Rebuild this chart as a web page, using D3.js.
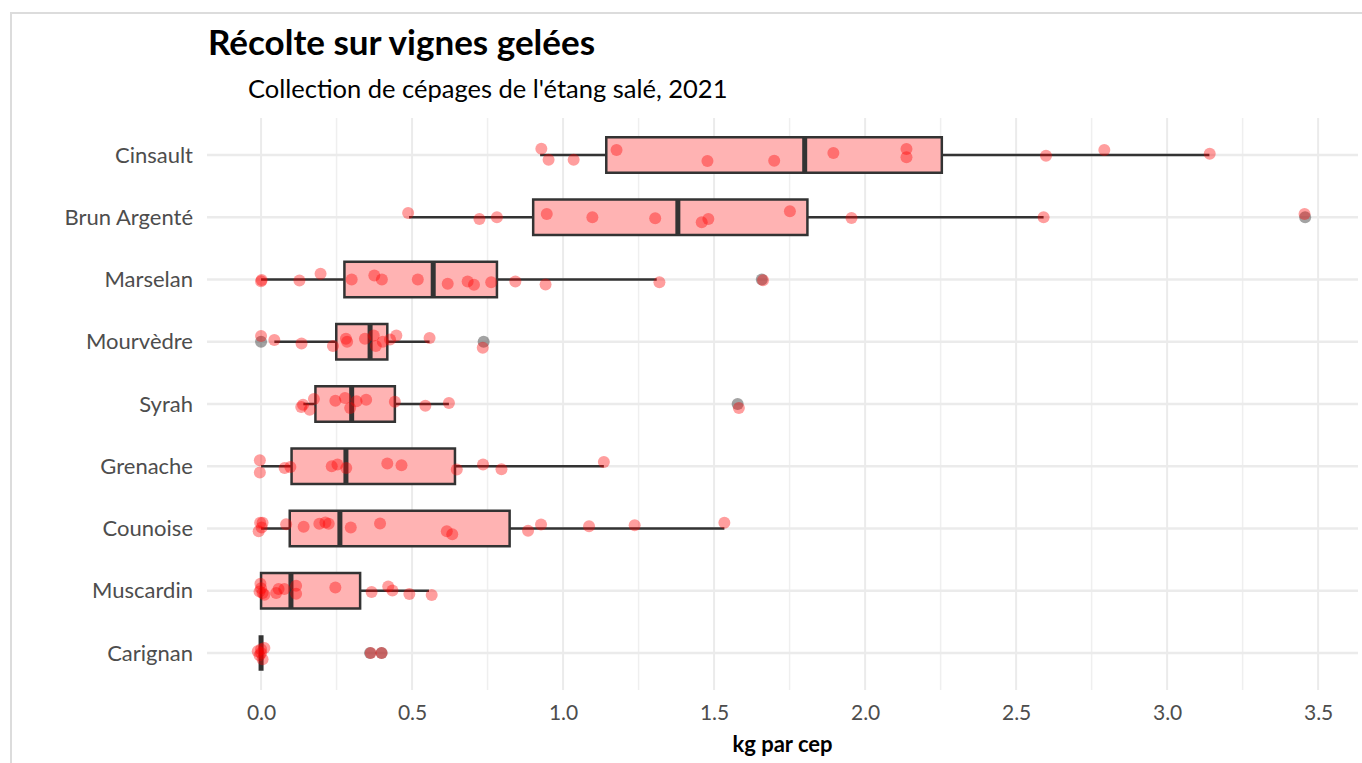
<!DOCTYPE html>
<html>
<head>
<meta charset="utf-8">
<script src="https://cdn.jsdelivr.net/npm/d3@7"></script>
<style>
  body { margin: 0; background: #fff; }
  svg { font-family: Lato, "Open Sans", sans-serif; }
</style>
</head>
<body>
<svg id="chart"></svg>
<script>
// cepages, top to bottom
var cepages = ["Cinsault", "Brun Argenté", "Marselan", "Mourvèdre", "Syrah", "Grenache", "Counoise", "Muscardin", "Carignan"];

// box stats (kg par cep)
var whiskLo = [0.924, 0.49, 0.0, 0.044, 0.14, 0.0, 0.0, 0.0, 0.0];
var q1      = [1.143, 0.901, 0.276, 0.249, 0.180, 0.101, 0.095, 0.0, 0.0];
var medians = [1.80, 1.38, 0.570, 0.361, 0.300, 0.281, 0.261, 0.099, 0.0];
var q3      = [2.254, 1.809, 0.781, 0.418, 0.443, 0.642, 0.823, 0.328, 0.0];
var whiskHi = [3.14, 2.591, 1.31, 0.558, 0.622, 1.135, 1.534, 0.556, 0.0];
var outliers = [[], [3.457], [1.658], [0.0, 0.737], [1.578], [], [], [], [0.361, 0.399]];

// jittered observations: [kg, vertical jitter in category units]
var cinsault = [[0.928,-0.10],[0.952,0.075],[1.035,0.075],[1.177,-0.08],[1.478,0.096],[1.699,0.091],[1.895,-0.032],[2.137,-0.096],[2.137,0.037],[2.599,0.011],[2.792,-0.08],[3.141,-0.021]];
var brun = [[0.487,-0.069],[0.723,0.027],[0.781,0],[0.946,-0.053],[1.097,0],[1.305,0.016],[1.459,0.08],[1.481,0.027],[1.751,-0.096],[1.955,0.011],[2.591,0],[3.455,-0.053]];
var marselan = [[0.0,0.027],[0.002,0.008],[0.127,0.016],[0.197,-0.091],[0.300,0],[0.375,-0.064],[0.400,0],[0.519,0],[0.618,0.069],[0.684,0.032],[0.705,0.085],[0.762,0.043],[0.842,0.032],[0.942,0.08],[1.319,0.043],[1.662,0.011]];
var mourvedre = [[0.0,-0.091],[0.044,-0.027],[0.134,0.027],[0.238,0.069],[0.281,-0.048],[0.285,0],[0.344,-0.048],[0.373,-0.10],[0.380,0.069],[0.403,0],[0.427,-0.037],[0.448,-0.10],[0.558,-0.059],[0.734,0.096]];
var syrah = [[0.133,0.048],[0.139,0.011],[0.161,0.091],[0.175,-0.08],[0.246,-0.053],[0.278,-0.096],[0.295,0.064],[0.316,-0.043],[0.348,-0.069],[0.443,-0.037],[0.544,0.027],[0.622,-0.016],[1.582,0.064]];
var grenache = [[-0.004,-0.096],[-0.004,0.10],[0.078,0.027],[0.097,0.011],[0.234,0],[0.253,-0.027],[0.282,0.027],[0.418,-0.043],[0.465,-0.016],[0.648,0.053],[0.735,-0.027],[0.796,0.048],[1.135,-0.069]];
var counoise = [[-0.003,-0.091],[0.005,-0.091],[-0.008,0.043],[0.002,-0.016],[0.083,-0.069],[0.141,-0.027],[0.193,-0.075],[0.213,-0.096],[0.224,-0.075],[0.297,-0.016],[0.394,-0.08],[0.615,0.043],[0.633,0.091],[0.884,0.037],[0.927,-0.064],[1.086,-0.037],[1.237,-0.053],[1.534,-0.091]];
var muscardin = [[-0.002,-0.112],[-0.005,0.011],[0.005,0.037],[0.011,0.064],[0.0,-0.04],[0.050,0.037],[0.058,-0.027],[0.077,-0.027],[0.116,-0.08],[0.116,0.048],[0.246,-0.053],[0.366,0.021],[0.421,-0.069],[0.435,-0.005],[0.491,0.053],[0.565,0.069]];
var carignan = [[-0.011,-0.027],[0.0,-0.059],[0.011,-0.08],[-0.005,0.037],[0.005,0.10],[0.0,0],[0.363,0],[0.399,0]];
var points = [cinsault, brun, marselan, mourvedre, syrah, grenache, counoise, muscardin, carignan];

var xTicks = [0, 0.5, 1, 1.5, 2, 2.5, 3, 3.5];
var xMinor = [0.25, 0.75, 1.25, 1.75, 2.25, 2.75, 3.25];

var width = 1362, height = 763;
var panel = { left: 207, right: 1358, top: 118, bottom: 690 };

var svg = d3.select("#chart").attr("width", width).attr("height", height);

// light frame round the plot
svg.append("path")
  .attr("d", "M11," + height + "V13H" + width)
  .attr("fill", "none").attr("stroke", "#dcdcdc").attr("stroke-width", 2);

var x = d3.scaleLinear().domain([-0.179, 3.632]).range([panel.left, panel.right]);
var y = d3.scalePoint().domain(cepages).range([155, 653]);
var step = y.step();
var boxH = step * 0.57;

// grid
var grid = svg.append("g");
grid.selectAll(".minor").data(xMinor).enter().append("line")
  .attr("x1", d => x(d)).attr("x2", d => x(d))
  .attr("y1", panel.top).attr("y2", panel.bottom)
  .attr("stroke", "#efefef").attr("stroke-width", 1.5);
grid.selectAll(".major").data(xTicks).enter().append("line")
  .attr("x1", d => x(d)).attr("x2", d => x(d))
  .attr("y1", panel.top).attr("y2", panel.bottom)
  .attr("stroke", "#ebebeb").attr("stroke-width", 2);
grid.selectAll(".hline").data(cepages).enter().append("line")
  .attr("x1", panel.left).attr("x2", panel.right)
  .attr("y1", d => y(d)).attr("y2", d => y(d))
  .attr("stroke", "#ebebeb").attr("stroke-width", 2.5);

// boxplots
var boxes = svg.append("g").selectAll("g").data(cepages).enter().append("g");
boxes.append("line")
  .attr("x1", (d, i) => x(whiskLo[i])).attr("x2", (d, i) => x(whiskHi[i]))
  .attr("y1", d => y(d)).attr("y2", d => y(d))
  .attr("stroke", "#333").attr("stroke-width", 2.5);
boxes.append("rect")
  .attr("x", (d, i) => x(q1[i])).attr("width", (d, i) => x(q3[i]) - x(q1[i]))
  .attr("y", d => y(d) - boxH / 2).attr("height", boxH)
  .attr("fill", "#ffb3b3").attr("stroke", "#333").attr("stroke-width", 2.5);
boxes.append("line")
  .attr("x1", (d, i) => x(medians[i])).attr("x2", (d, i) => x(medians[i]))
  .attr("y1", d => y(d) - boxH / 2).attr("y2", d => y(d) + boxH / 2)
  .attr("stroke", "#333").attr("stroke-width", 5);
boxes.selectAll("circle").data((d, i) => outliers[i].map(v => [v, d])).enter().append("circle")
  .attr("cx", d => x(d[0])).attr("cy", d => y(d[1])).attr("r", 6)
  .attr("fill", "#333").attr("fill-opacity", 0.45);

// jittered points
var pts = svg.append("g");
cepages.forEach(function (c, i) {
  pts.selectAll(".p" + i).data(points[i]).enter().append("circle")
    .attr("cx", d => x(d[0])).attr("cy", d => y(c) + d[1] * step)
    .attr("r", 6).attr("fill", "#ff0000").attr("fill-opacity", 0.38);
});

// axes
var xAxis = svg.append("g").attr("transform", "translate(0," + panel.bottom + ")")
  .call(d3.axisBottom(x).tickValues(xTicks).tickFormat(d3.format(".1f")).tickSize(0).tickPadding(15));
xAxis.select(".domain").remove();
xAxis.selectAll("text").attr("font-size", 21).attr("fill", "#4d4d4d").attr("font-family", "Lato");

var yAxis = svg.append("g").attr("transform", "translate(" + panel.left + ",0)")
  .call(d3.axisLeft(y).tickSize(0).tickPadding(14));
yAxis.select(".domain").remove();
yAxis.selectAll("text").attr("font-size", 22).attr("fill", "#4d4d4d").attr("font-family", "Lato");

// titles
svg.append("text").attr("x", 208).attr("y", 55)
  .attr("font-size", 35).attr("font-weight", "bold").attr("fill", "#000")
  .text("Récolte sur vignes gelées");
svg.append("text").attr("x", 248).attr("y", 98)
  .attr("font-size", 25.5).attr("fill", "#000")
  .text("Collection de cépages de l'étang salé, 2021");
svg.append("text").attr("x", (panel.left + panel.right) / 2).attr("y", 752)
  .attr("text-anchor", "middle").attr("font-size", 22).attr("font-weight", "bold").attr("fill", "#000")
  .text("kg par cep");
</script>
</body>
</html>
